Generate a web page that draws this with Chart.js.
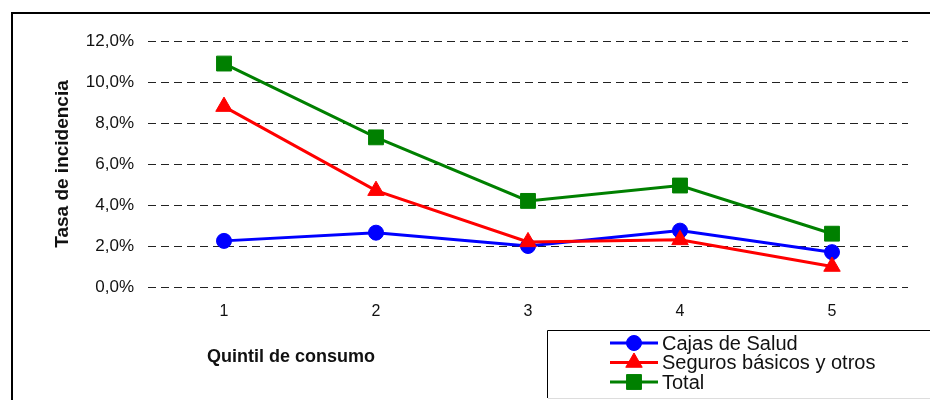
<!DOCTYPE html>
<html lang="es">
<head>
<meta charset="UTF-8">
<title>Tasa de incidencia por quintil de consumo</title>
<script src="https://cdn.jsdelivr.net/npm/chart.js"></script>
<style>
    body { margin: 0; background: #fff; }
    #wrap { width: 930px; height: 400px; }
</style>
</head>
<body>
<div id="wrap"><canvas id="incidenceChart" width="930" height="400"></canvas></div>

<script>
    // values (percent)
    const quintiles = ['1', '2', '3', '4', '5'];
    const cajasSalud = [2.25, 2.65, 2.0, 2.75, 1.7];
    const segurosBasicos = [8.8, 4.7, 2.2, 2.3, 1.0];
    const total = [10.9, 7.3, 4.2, 4.95, 2.6];
    const seriesNames = ['Cajas de Salud', 'Seguros básicos y otros', 'Total'];
    const yMin = 0, yMax = 12, yStep = 2;

    const FONT = '"Liberation Sans", Arial, Helvetica, sans-serif';
    Chart.defaults.font.family = FONT;
    Chart.defaults.color = '#111';

    function fmtPct(v) {
        return v.toFixed(1).replace('.', ',') + '%';
    }

    // frame, x-axis title and the boxed legend
    const decorPlugin = {
        id: 'decor',
        beforeDraw(chart) {
            const ctx = chart.ctx;
            ctx.save();
            ctx.fillStyle = '#fff';
            ctx.fillRect(0, 0, chart.width, chart.height);
            ctx.fillStyle = '#000';
            ctx.fillRect(11, 12, chart.width - 11, 2);
            ctx.fillRect(11, 12, 2, chart.height - 12);
            ctx.restore();
        },
        afterDraw(chart) {
            const ctx = chart.ctx;
            ctx.save();
            ctx.fillStyle = '#111';
            ctx.font = 'bold 18px ' + FONT;
            ctx.textAlign = 'center';
            ctx.textBaseline = 'middle';
            ctx.fillText('Quintil de consumo', 291, 357);

            // legend box
            ctx.fillStyle = '#fff';
            ctx.fillRect(547, 330, 400, 68);
            ctx.strokeStyle = '#000';
            ctx.lineWidth = 1;
            ctx.beginPath();
            ctx.moveTo(547.5, 398);
            ctx.lineTo(547.5, 330.5);
            ctx.lineTo(chart.width, 330.5);
            ctx.stroke();
            ctx.strokeStyle = '#ddd';
            ctx.beginPath();
            ctx.moveTo(548, 398.5);
            ctx.lineTo(chart.width, 398.5);
            ctx.stroke();

            chart.data.datasets.forEach((ds, i) => {
                const y = 343 + i * 19.5;
                ctx.strokeStyle = ds.borderColor;
                ctx.lineWidth = 3;
                ctx.beginPath();
                ctx.moveTo(610, y);
                ctx.lineTo(658, y);
                ctx.stroke();
                ctx.fillStyle = ds.borderColor;
                ctx.lineWidth = 1;
                Chart.helpers.drawPoint(ctx, {
                    pointStyle: ds.pointStyle,
                    radius: ds.pointRadius,
                    rotation: 0,
                    borderWidth: 1
                }, 634, y);
                ctx.fillStyle = '#111';
                ctx.font = '20px ' + FONT;
                ctx.textAlign = 'left';
                ctx.textBaseline = 'middle';
                ctx.fillText(ds.label, 662, y + 1);
            });
            ctx.restore();
        }
    };

    const data = {
        labels: quintiles,
        datasets: [{
            label: seriesNames[0],
            data: cajasSalud,
            borderColor: '#0000ff',
            backgroundColor: '#0000ff',
            pointStyle: 'circle',
            pointRadius: 7.5,
            order: 3
        }, {
            label: seriesNames[1],
            data: segurosBasicos,
            borderColor: '#ff0000',
            backgroundColor: '#ff0000',
            pointStyle: 'triangle',
            pointRadius: 9.5,
            order: 2
        }, {
            label: seriesNames[2],
            data: total,
            borderColor: '#008000',
            backgroundColor: '#008000',
            pointStyle: 'rect',
            pointRadius: 10.5,
            order: 1
        }]
    };
    data.datasets.forEach(ds => {
        ds.borderWidth = 3;
        ds.pointBorderWidth = 1;
        ds.tension = 0;
        ds.fill = false;
    });

    const config = {
        type: 'line',
        data: data,
        options: {
            responsive: false,
            animation: false,
            events: [],
            layout: { padding: { left: 0, top: 41, right: 22, bottom: 0 } },
            plugins: {
                legend: { display: false },
                tooltip: { enabled: false }
            },
            scales: {
                x: {
                    offset: true,
                    grid: { display: false, drawTicks: false },
                    border: { display: false },
                    ticks: { font: { size: 16 }, color: '#111', padding: 15 },
                    afterFit(scale) { scale.height = 113; }
                },
                y: {
                    min: yMin,
                    max: yMax,
                    grid: { color: '#222', lineWidth: 1, drawTicks: false },
                    border: { display: false, dash: [8, 5] },
                    ticks: {
                        stepSize: yStep,
                        font: { size: 17 },
                        color: '#111',
                        padding: 14,
                        callback: v => fmtPct(v)
                    },
                    title: {
                        display: true,
                        text: 'Tasa de incidencia',
                        font: { size: 19, weight: 'bold' },
                        color: '#111',
                        padding: { top: 51, bottom: 0 }
                    },
                    afterFit(scale) { scale.width = 148; }
                }
            }
        },
        plugins: [decorPlugin]
    };

    new Chart(document.getElementById('incidenceChart'), config);
</script>
</body>
</html>
